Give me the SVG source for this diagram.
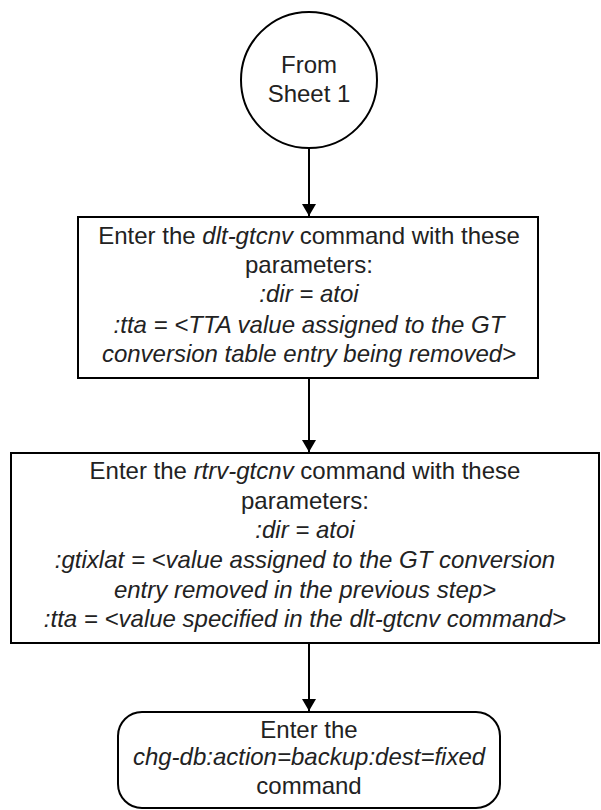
<svg xmlns="http://www.w3.org/2000/svg" width="601" height="810" viewBox="0 0 601 810">
<style>
.n{fill:#fff;stroke:#000;stroke-width:2}
.t{font-family:"Liberation Sans",Arial,sans-serif;font-size:24px;fill:#222;text-anchor:middle}
.i{font-style:italic}
.c{stroke:#000;stroke-width:2;fill:none}
</style>
<defs>
<marker id="ah" markerWidth="12" markerHeight="14" viewBox="0 0 12 14" refX="12" refY="7" orient="auto" markerUnits="userSpaceOnUse">
<path d="M0,0 L12,7 L0,14 Z" fill="#000"/>
</marker>
</defs>
<rect width="601" height="810" fill="#fff"/>
<g id="connectors">
<line class="c" x1="309" y1="148" x2="309" y2="216" marker-end="url(#ah)"/>
<line class="c" x1="309" y1="378" x2="309" y2="452" marker-end="url(#ah)"/>
<line class="c" x1="309" y1="643" x2="309" y2="711" marker-end="url(#ah)"/>
</g>
<g id="start">
<circle class="n" cx="309" cy="80" r="68"/>
<text class="t" x="309" y="73">From</text>
<text class="t" x="309" y="102">Sheet 1</text>
</g>
<g id="step1">
<rect class="n" x="78" y="217" width="460" height="161"/>
<text class="t" x="309" y="244">Enter the <tspan class="i">dlt-gtcnv</tspan> command with these</text>
<text class="t" x="309" y="273">parameters:</text>
<text class="t i" x="309" y="302">:dir = atoi</text>
<text class="t i" x="309" y="333">:tta = &lt;TTA value assigned to the GT</text>
<text class="t i" x="309" y="362">conversion table entry being removed&gt;</text>
</g>
<g id="step2">
<rect class="n" x="11" y="453" width="588" height="190"/>
<text class="t" x="305" y="479">Enter the <tspan class="i">rtrv-gtcnv</tspan> command with these</text>
<text class="t" x="305" y="509">parameters:</text>
<text class="t i" x="305" y="538">:dir = atoi</text>
<text class="t i" x="305" y="568">:gtixlat = &lt;value assigned to the GT conversion</text>
<text class="t i" x="305" y="598">entry removed in the previous step&gt;</text>
<text class="t i" x="305" y="627">:tta = &lt;value specified in the dlt-gtcnv command&gt;</text>
</g>
<g id="step3">
<rect class="n" x="118" y="712" width="382" height="96" rx="24" ry="24"/>
<text class="t" x="309" y="738">Enter the</text>
<text class="t i" x="309" y="765">chg-db:action=backup:dest=fixed</text>
<text class="t" x="309" y="794">command</text>
</g>
</svg>
